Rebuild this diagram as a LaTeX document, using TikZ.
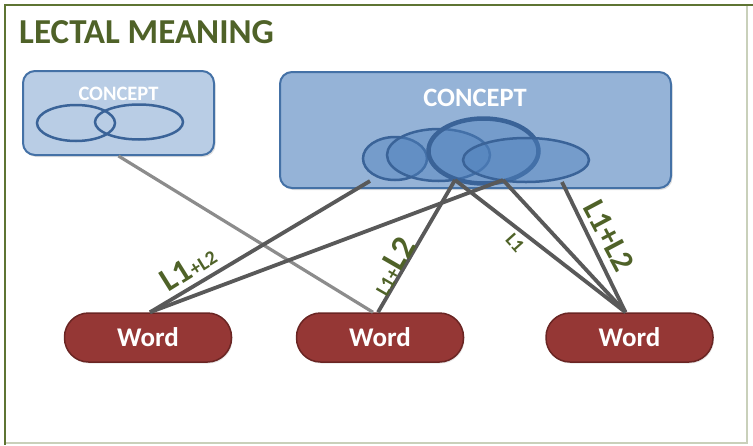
\documentclass[tikz,border=0pt]{standalone}
\usepackage{fontspec}
\setmainfont{Carlito}
\usetikzlibrary{shapes.geometric,shadows}

\definecolor{framegreen}{HTML}{5E7432}
\definecolor{frameedge}{HTML}{C9D0BA}
\definecolor{titlegreen}{HTML}{4F6228}
\definecolor{paleblue}{HTML}{B9CDE5}
\definecolor{midblue}{HTML}{95B3D7}
\definecolor{boxedge}{HTML}{4471A6}
\definecolor{ovalfill}{HTML}{4F81BD}
\definecolor{ovaledge}{HTML}{3A6398}
\definecolor{wordfill}{HTML}{953735}
\definecolor{wordedge}{HTML}{6A2523}
\definecolor{linkdark}{HTML}{595959}
\definecolor{linklight}{HTML}{8C8C8C}

\newcommand{\fsz}[1]{\fontsize{#1}{#1}\selectfont}

\begin{document}
\begin{tikzpicture}[x=1pt,y=-1pt,
  conceptbox/.style={draw=boxedge, line width=2pt, rounded corners=12pt,
    drop shadow={shadow xshift=1.5pt, shadow yshift=-2pt, opacity=0.25}},
  oval/.style={ellipse, draw=ovaledge, line width=2.5pt, inner sep=0pt,
    fill=ovalfill, fill opacity=0.45, draw opacity=1},
  smalloval/.style={ellipse, draw=ovaledge, line width=2.5pt, inner sep=0pt},
  wordbox/.style={draw=wordedge, line width=1.5pt, fill=wordfill,
    rounded corners=24pt, minimum width=167pt, minimum height=49pt,
    text=white, font=\fsz{27}\bfseries,
    drop shadow={shadow xshift=1pt, shadow yshift=-1.5pt, opacity=0.2}},
  heading/.style={text=white, font=\bfseries},
  link/.style={draw=linkdark, line width=3.8pt},
  lightlink/.style={draw=linklight, line width=3.2pt},
  tag/.style={text=titlegreen, font=\bfseries, inner sep=0pt}
]
\useasboundingbox (0,0) rectangle (753,445);

% outer frame
\draw[frameedge, line width=1.2pt] (747,5) -- (747,443) -- (5,443);
\draw[framegreen, line width=2.2pt] (753,5) -- (5,5) -- (5,445);

% title
\node[anchor=base west, inner sep=0pt, text=titlegreen, font=\fsz{35}\bfseries]
  (title) at (19,43) {LECTAL MEANING};

% left concept
\node[conceptbox, fill=paleblue, minimum width=191pt, minimum height=84pt]
  (cs) at (118.5,113) {};
\node[heading, font=\fsz{20.5}\bfseries] (csl) at (118.5,94) {CONCEPT};
\node[smalloval, minimum width=78pt, minimum height=36pt] (sa) at (76,123) {};
\node[smalloval, minimum width=88pt, minimum height=35pt] (sb) at (139,122) {};

% right concept
\node[conceptbox, fill=midblue, minimum width=391pt, minimum height=116pt]
  (cb) at (475.5,130) {};
\node[heading, font=\fsz{26.5}\bfseries] (cbl) at (475,98) {CONCEPT};
\node[oval, minimum width=64pt, minimum height=43pt] (e1) at (395,158.5) {};
\node[oval, minimum width=103pt, minimum height=52pt] (e2) at (438.5,155) {};
\node[oval, line width=4.5pt, minimum width=110pt, minimum height=65pt] (e3) at (483.5,151) {};
\node[oval, minimum width=126pt, minimum height=44pt] (e4) at (526,160) {};

% words
\node[wordbox] (w1) at (148,337.5) {Word};
\node[wordbox] (w2) at (380,337.5) {Word};
\node[wordbox] (w3) at (629.5,337.5) {Word};

% link end points on the ovals
\coordinate (p1) at (370,181);
\coordinate (p2) at (455,180);
\coordinate (p3) at (503,180);
\coordinate (p4) at (562,182);

% links
\draw[lightlink] (cs.south) -- ([xshift=-7pt]w2.north);
\draw[link] (p1) -- ([xshift=2pt]w1.north);
\draw[link] (p3) -- ([xshift=2pt]w1.north);
\draw[link] (p2) -- ([xshift=-2pt]w2.north);
\draw[link] (p2) -- ([xshift=-4pt]w3.north);
\draw[link] (p3) -- ([xshift=-4pt]w3.north);
\draw[link] (p4) -- ([xshift=-4pt]w3.north);

% link labels
\node[tag, rotate=32] (t1) at (188,268)
  {{\fsz{33}L1}{\fsz{20}+L2}};
\node[tag, rotate=60] (t2) at (392,266)
  {{\fsz{20}L1+}{\fsz{34}L2}};
\node[tag, rotate=-48, font=\fsz{19}\bfseries] (t3) at (515,243) {L1};
\node[tag, rotate=-62, font=\fsz{32}\bfseries] (t4) at (609,236) {L1+L2};
\end{tikzpicture}
\end{document}
